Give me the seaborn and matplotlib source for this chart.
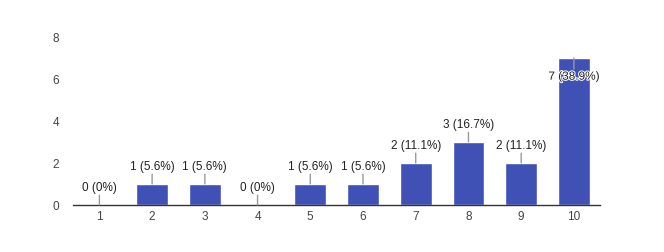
import matplotlib
matplotlib.use("Agg")
import matplotlib.pyplot as plt
import matplotlib.patheffects as pe
import seaborn as sns
import pandas as pd

categories = ["1", "2", "3", "4", "5", "6", "7", "8", "9", "10"]
counts = [0, 1, 1, 0, 1, 1, 2, 3, 2, 7]
labels = ["0 (0%)", "1 (5.6%)", "1 (5.6%)", "0 (0%)", "1 (5.6%)", "1 (5.6%)",
          "2 (11.1%)", "3 (16.7%)", "2 (11.1%)", "7 (38.9%)"]
yticks = [0, 2, 4, 6, 8]

sns.set_theme(style="white")
plt.rcParams["font.family"] = ["Arial", "Liberation Sans", "DejaVu Sans"]

df = pd.DataFrame({"cat": categories, "count": counts})

fig = plt.figure(figsize=(6.64, 2.53), dpi=100)
ax = fig.add_axes([0.110, 0.186, 0.794, 0.664])
sns.barplot(data=df, x="cat", y="count", color="#3F51B5", saturation=1,
            width=0.6, ax=ax, order=categories)

ax.set_ylim(0, 8)
ax.set_xlim(-0.5, 9.5)
ax.set_yticks(yticks)
ax.set_xlabel("")
ax.set_ylabel("")
for s in ["top", "right", "left"]:
    ax.spines[s].set_visible(False)
ax.spines["bottom"].set_color("#333333")
ax.spines["bottom"].set_linewidth(1)
ax.tick_params(axis="both", length=0, labelsize=8.5, labelcolor="#444444")
ax.tick_params(axis="y", pad=10)
ax.tick_params(axis="x", pad=4)

for i, (c, lab) in enumerate(zip(counts, labels)):
    if c >= 6:
        ax.annotate("", xy=(i, c), xytext=(0, -8), textcoords="offset points",
                    arrowprops=dict(arrowstyle="-", color="#999999", lw=1,
                                    shrinkA=0, shrinkB=0))
        t = ax.annotate(lab, xy=(i, c), xytext=(0, -13.5), textcoords="offset points",
                        ha="center", va="center", fontsize=8.5, color="#222222")
        t.set_path_effects([pe.withStroke(linewidth=1.5, foreground="white")])
    else:
        ax.annotate("", xy=(i, c), xytext=(0, 7), textcoords="offset points",
                    arrowprops=dict(arrowstyle="-", color="#999999", lw=1,
                                    shrinkA=0, shrinkB=0))
        ax.annotate(lab, xy=(i, c), xytext=(0, 13), textcoords="offset points",
                    ha="center", va="center", fontsize=8.5, color="#222222")

fig.savefig("out.png", dpi=100)
